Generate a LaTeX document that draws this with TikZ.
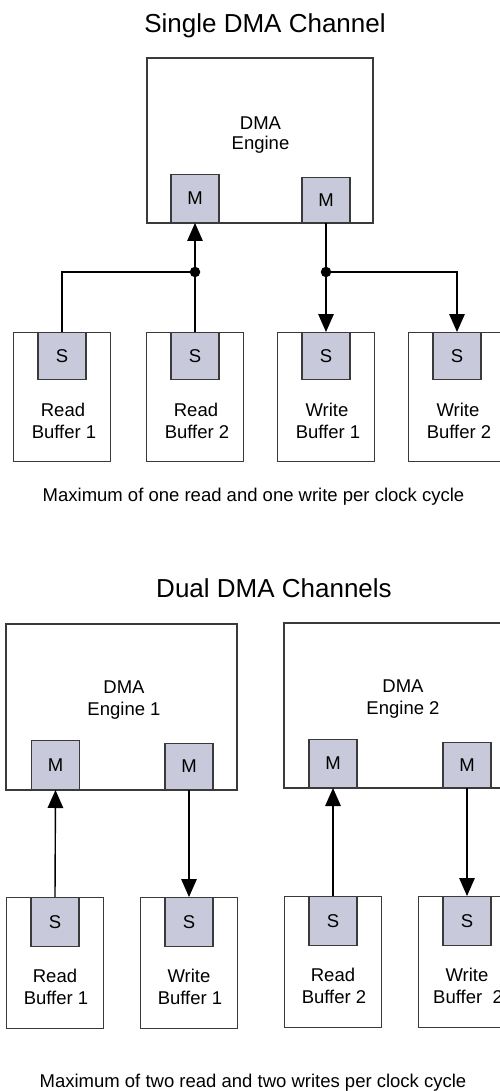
\documentclass[tikz,border=0pt]{standalone}
\usepackage{fontspec}
\setmainfont{Liberation Sans}
\usetikzlibrary{arrows.meta}
\definecolor{portfill}{HTML}{C8CADB}
\definecolor{edgecol}{HTML}{3A3A3A}
\begin{document}
\begin{tikzpicture}[x=1pt,y=-1pt,
  box/.style={draw=edgecol,line width=1.4pt,fill=white,inner sep=0pt,rectangle},
  port/.style={draw=edgecol,line width=1.4pt,fill=portfill,inner sep=0pt,minimum width=48pt,font=\fontsize{18.5}{22}\selectfont},
  lbl/.style={anchor=base,inner sep=0pt,font=\fontsize{18.5}{22}\selectfont},
  conn/.style={line width=1.4pt},
  arr/.style={conn,-{Triangle[length=18pt,width=15.5pt]}},
  jdot/.style={circle,fill=black,inner sep=0pt,minimum size=10.5pt},
  ttl/.style={anchor=base,inner sep=0pt,font=\fontsize{26}{30}\selectfont},
]
\useasboundingbox (0,0) rectangle (500,1091);
\clip (0,0) rectangle (500,1091);

% ---------- Single DMA Channel ----------
\node[ttl] (t1) at (265,33) {Single DMA Channel};
\node[box,minimum width=226pt,minimum height=165pt] (eng) at (260,140.5) {};
\node[lbl] (engA) at (260.5,129.5) {DMA};
\node[lbl] (engB) at (260.5,150) {Engine};
\node[port,minimum height=48pt,anchor=south] (m1) at (195,223) {M};
\node[port,minimum height=45pt,anchor=south] (m2) at (326,223) {M};

\foreach \n/\x/\a/\b in {rb1/62/Read/Buffer 1, rb2/195/Read/Buffer 2, wb1/326/Write/Buffer 1, wb2/457/Write/Buffer 2}{
  \node[box,minimum width=97pt,minimum height=129pt,anchor=north] (\n) at (\x,332) {};
  \node[port,minimum height=47pt,anchor=north] (\n s) at (\x,332) {S};
  \node[lbl] (\n a) at (\x+1,416.5) {\a};
  \node[lbl] (\n b) at (\x+2,438.5) {\b};
}

\coordinate (j1) at (195,272);
\coordinate (j2) at (326,272);
\draw[conn] (rb1s.north) |- (j1);
\draw[arr] (rb2s.north) -- (m1.south);
\draw[conn] (m2.south) -- (j2);
\draw[arr] (j2) -- (wb1s.north);
\draw[arr] (j2) -| (wb2s.north);
\node[jdot] (d1) at (j1) {};
\node[jdot] (d2) at (j2) {};

\node[lbl] (cap1) at (253.5,501) {Maximum of one read and one write per clock cycle};

% ---------- Dual DMA Channels ----------
\node[ttl] (t2) at (274,597) {Dual DMA Channels};
\node[box,minimum width=231pt,minimum height=166pt] (engone) at (121.5,707) {};
\node[lbl] (e1A) at (124,693) {DMA};
\node[lbl] (e1B) at (124,715) {Engine 1};
\node[port,minimum height=49pt,anchor=south] (e1m1) at (55.5,790) {M};
\node[port,minimum height=46pt,anchor=south] (e1m2) at (189,790) {M};

\node[box,minimum width=226pt,minimum height=165pt] (engtwo) at (397,705.5) {};
\node[lbl] (e2A) at (403,692) {DMA};
\node[lbl] (e2B) at (403,714) {Engine 2};
\node[port,minimum height=48pt,anchor=south] (e2m1) at (333,788) {M};
\node[port,minimum height=45pt,anchor=south] (e2m2) at (467,788) {M};

\foreach \n/\x/\y/\a/\b in {drb1/55/897/Read/Buffer 1, dwb1/189/897/Write/Buffer 1, drb2/333/896/Read/Buffer 2, dwb2/467/896/Write/Buffer\ \ 2}{
  \node[box,minimum width=97pt,minimum height=131pt,anchor=north] (\n) at (\x,\y) {};
  \node[port,minimum height=49pt,anchor=north] (\n s) at (\x,\y) {S};
  \node[lbl] (\n a) at (\x,\y+85) {\a};
  \node[lbl] (\n b) at (\x+1,\y+107) {\b};
}

\draw[arr] (drb1s.north) -- (e1m1.south);
\draw[arr] (e1m2.south) -- (dwb1s.north);
\draw[arr] (drb2s.north) -- (e2m1.south);
\draw[arr] (e2m2.south) -- (dwb2s.north);

\node[lbl] (cap2) at (253,1087) {Maximum of two read and two writes per clock cycle};
\end{tikzpicture}
\end{document}
